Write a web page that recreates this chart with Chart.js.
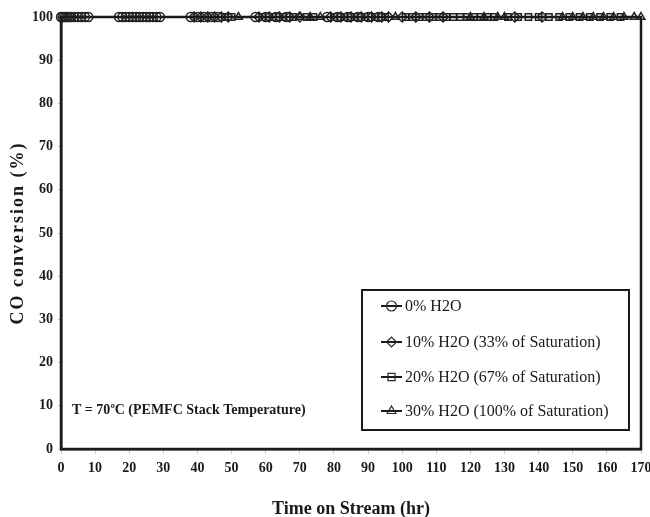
<!DOCTYPE html>
<html>
<head>
<meta charset="utf-8">
<script src="https://cdn.jsdelivr.net/npm/chart.js@4"></script>
<style>
  html, body { margin: 0; padding: 0; background: #ffffff; }
  #wrap { position: relative; width: 650px; height: 517px; }
</style>
</head>
<body>
<div id="wrap"><canvas id="c" width="650" height="517"></canvas></div>
<script>
// ---- data (time on stream in hr, CO conversion in %) ----
const seriesLabels = [
  "0% H2O",
  "10% H2O (33% of Saturation)",
  "20% H2O (67% of Saturation)",
  "30% H2O (100% of Saturation)"
];
const timeDry = [0,0.5,1,1.5,2,2.5,3,4,5,6,7,8,17,18,19,20,21,22,23,24,25,26,27,28,29,38,40,42,44,46,57,60,63,66,78,81,84,87,90,93];
const convDry = [100,100,100,100,100,100,100,100,100,100,100,100,100,100,100,100,100,100,100,100,100,100,100,100,100,100,100,100,100,100,100,100,100,100,100,100,100,100,100,100];
const time10 = [39,41,43,45,47,49,58,61,64,67,70,79,82,85,88,91,94,96,100,104,108,112,133,141];
const conv10 = [100,100,100,100,100,100,100,100,100,100,100,100,100,100,100,100,100,100,100,100,100,100,100,100];
const time20 = [48,50,59,62,65,68,72,74,80,83,86,89,92,95,101,103,105,107,109,111,113,115,117,119,121,123,125,127,131,134,137,140,143,146,149,152,155,158,161,164];
const conv20 = [100,100,100,100,100,100,100,100,100,100,100,100,100,100,100,100,100,100,100,100,100,100,100,100,100,100,100,100,100,100,100,100,100,100,100,100,100,100,100,100];
const time30 = [52,70,73,76,98,120,124,128,130,147,150,153,156,159,162,165,168,170];
const conv30 = [100,100,100,100,100,100,100,100,100,100,100,100,100,100,100,100,100,100];
const xTicks = [0,10,20,30,40,50,60,70,80,90,100,110,120,130,140,150,160,170];
const yTicks = [0,10,20,30,40,50,60,70,80,90,100];
const xTitle = "Time on Stream (hr)";
const yTitle = "CO conversion (%)";
const annotationParts = ["T = 70", "o", "C (PEMFC Stack Temperature)"];

const markerStyles = ["circle", "rectRot", "rect", "triangle"];
const ink = "#1a1a1a";
const serif = "'Liberation Serif', 'DejaVu Serif', serif";

function pts(xs, ys) { return xs.map((x, i) => ({ x: x, y: ys[i] })); }

const datasets = [
  [timeDry, convDry], [time10, conv10], [time20, conv20], [time30, conv30]
].map((pair, i) => ({
  label: seriesLabels[i],
  data: pts(pair[0], pair[1]),
  showLine: true,
  borderColor: ink,
  borderWidth: 2.2,
  pointStyle: markerStyles[i],
  pointRadius: i === 1 ? 5 : 4.5,
  pointBorderColor: "#222",
  pointBorderWidth: 1.5,
  pointBackgroundColor: "rgba(255,255,255,0)",
  clip: false
}));

const framePlugin = {
  id: "frame",
  afterDraw(chart) {
    const { ctx, chartArea: a } = chart;
    ctx.save();
    ctx.strokeStyle = ink;
    ctx.lineWidth = 2.5;
    ctx.strokeRect(a.left, a.top, a.right - a.left, a.bottom - a.top);

    // y axis title (letter-spaced)
    ctx.save();
    ctx.translate(18, (a.top + a.bottom) / 2);
    ctx.rotate(-Math.PI / 2);
    ctx.fillStyle = ink;
    ctx.font = "bold 18px " + serif;
    ctx.letterSpacing = "2px";
    ctx.textAlign = "center";
    ctx.textBaseline = "middle";
    ctx.fillText(yTitle, 0, 0);
    ctx.restore();

    // annotation
    const ys = chart.scales.y, xs = chart.scales.x;
    ctx.fillStyle = ink;
    ctx.textBaseline = "alphabetic";
    ctx.textAlign = "left";
    let tx = xs.getPixelForValue(3.2);
    const ty = ys.getPixelForValue(9.3) + 5;
    ctx.font = "bold 14px " + serif;
    ctx.fillText(annotationParts[0], tx, ty);
    tx += ctx.measureText(annotationParts[0]).width;
    ctx.font = "bold 8px " + serif;
    ctx.fillText(annotationParts[1], tx + 0.5, ty - 6);
    tx += ctx.measureText(annotationParts[1]).width + 0.5;
    ctx.font = "bold 14px " + serif;
    ctx.fillText(annotationParts[2], tx, ty);

    // legend box
    const bx = 362, by = 290, bw = 267, bh = 140;
    ctx.fillStyle = "#ffffff";
    ctx.fillRect(bx, by, bw, bh);
    ctx.lineWidth = 2;
    ctx.strokeStyle = ink;
    ctx.strokeRect(bx, by, bw, bh);
    const rows = [306, 342, 377, 411];
    chart.data.datasets.forEach((ds, i) => {
      const y = rows[i];
      ctx.strokeStyle = ink;
      ctx.lineWidth = 2;
      ctx.beginPath();
      ctx.moveTo(381, y);
      ctx.lineTo(402, y);
      ctx.stroke();
      ctx.lineWidth = 1.2;
      ctx.strokeStyle = "#2a2a2a";
      ctx.fillStyle = "rgba(255,255,255,0)";
      Chart.helpers.drawPoint(ctx, { pointStyle: ds.pointStyle, radius: 5, rotation: 0, borderWidth: 1.2 }, 391.5, y);
      ctx.fillStyle = ink;
      ctx.font = "16px " + serif;
      ctx.textAlign = "left";
      ctx.textBaseline = "middle";
      ctx.fillText(ds.label, 405, y + 1);
    });
    ctx.restore();
  }
};

new Chart(document.getElementById("c"), {
  type: "scatter",
  data: { datasets: datasets },
  options: {
    responsive: false,
    animation: false,
    devicePixelRatio: 1,
    layout: { padding: { top: 17, right: 9, left: 0, bottom: 0 } },
    plugins: {
      legend: { display: false },
      tooltip: { enabled: false }
    },
    scales: {
      x: {
        type: "linear",
        min: 0, max: 170,
        afterBuildTicks: (s) => { s.ticks = xTicks.map(v => ({ value: v })); },
        afterFit: (s) => { s.height = 68; s.paddingRight = 0; s.paddingLeft = 0; },
        grid: { display: true, drawOnChartArea: false, drawTicks: true, tickLength: 5, color: "#c8c8c8" },
        border: { display: true, color: ink, width: 2.5 },
        ticks: { color: ink, font: { family: serif, size: 14, weight: "bold" }, padding: 6, maxRotation: 0, autoSkip: false },
        title: { display: true, text: xTitle, color: ink, font: { family: serif, size: 18, weight: "bold" }, padding: { top: 0, bottom: -3 } }
      },
      y: {
        type: "linear",
        min: 0, max: 100,
        afterBuildTicks: (s) => { s.ticks = yTicks.map(v => ({ value: v })); },
        afterFit: (s) => { s.width = 61; s.paddingTop = 0; s.paddingBottom = 0; },
        grid: { display: true, drawOnChartArea: false, drawTicks: true, tickLength: 3, color: "#c8c8c8" },
        border: { display: true, color: ink, width: 2.5 },
        ticks: { color: ink, font: { family: serif, size: 14, weight: "bold" }, padding: 5 },
        title: { display: false }
      }
    }
  },
  plugins: [framePlugin]
});
</script>
</body>
</html>
